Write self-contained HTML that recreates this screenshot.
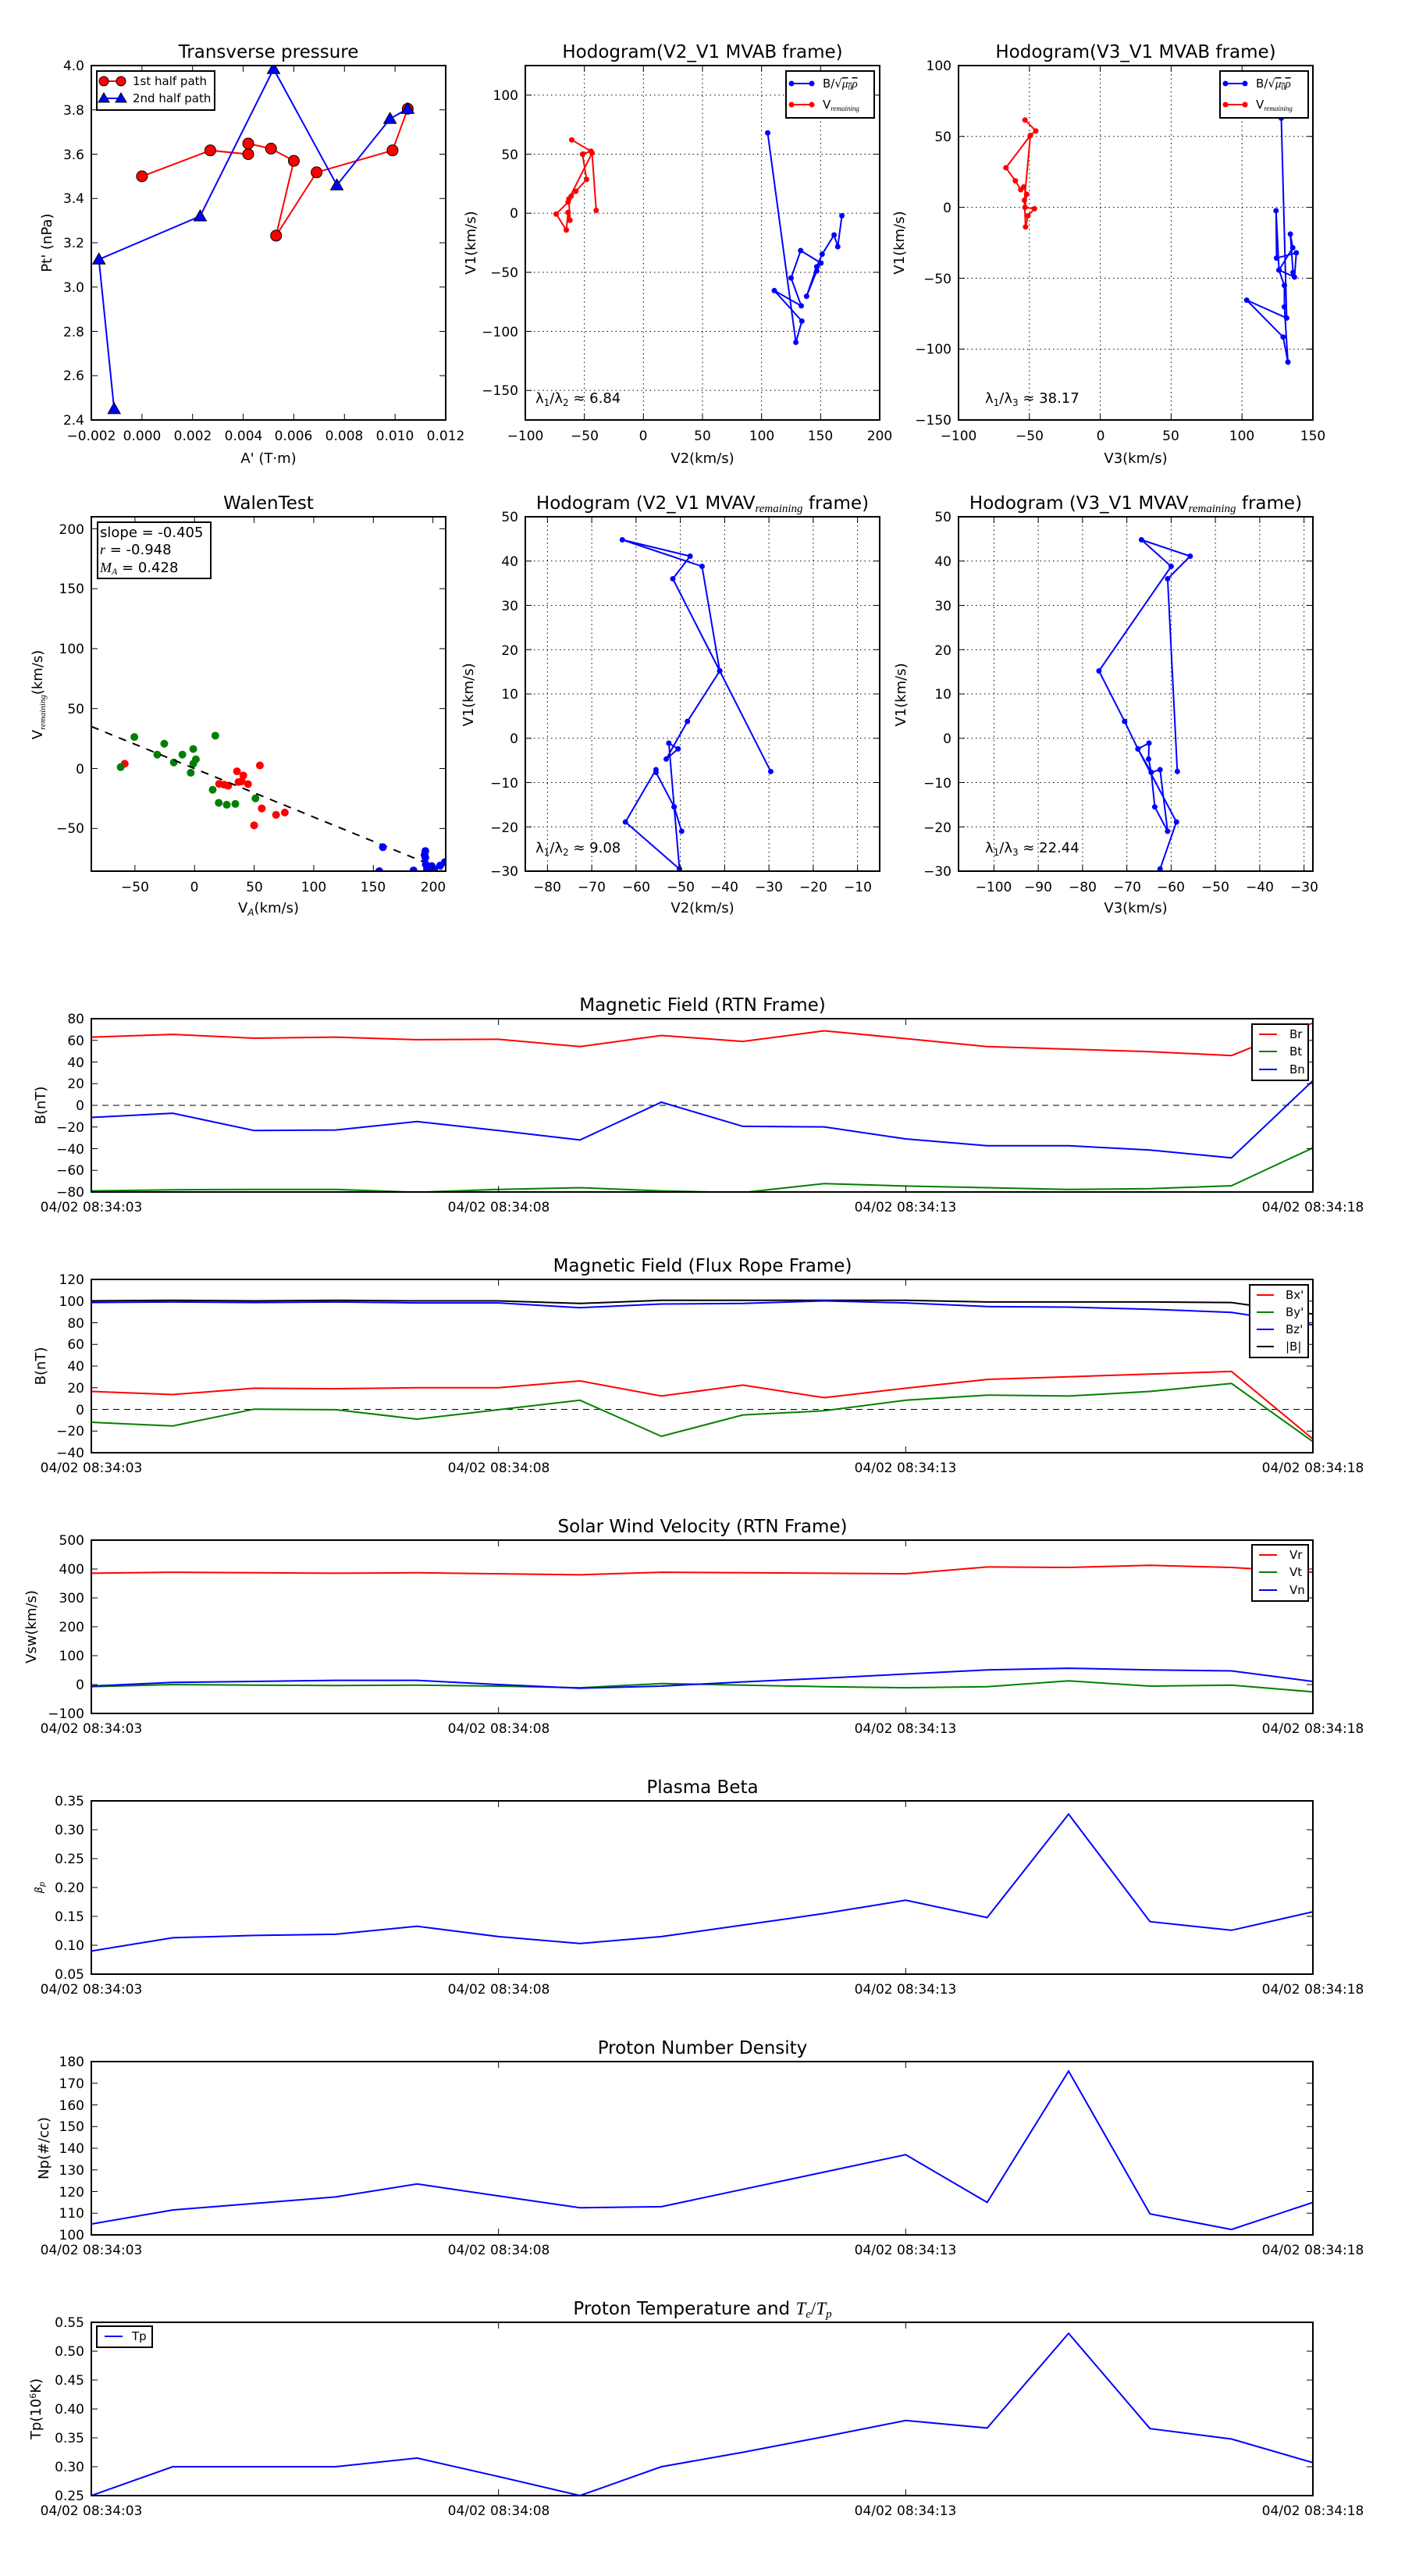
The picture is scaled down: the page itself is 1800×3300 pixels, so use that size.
<!DOCTYPE html>
<html><head><meta charset="utf-8">
<style>
html,body{margin:0;padding:0;background:#fff;}
svg{display:block;}
text{font-family:"DejaVu Sans","Liberation Sans",sans-serif;fill:#000;}
.tk{font-size:17px;}
.ti{font-size:23px;}
.lb{font-size:18px;}
.lg{font-size:15px;}
</style></head>
<body>
<svg id="fig" width="1800" height="3300" viewBox="0 0 1800 3300" xmlns="http://www.w3.org/2000/svg">
<rect width="1800" height="3300" fill="#fff"/>
<g id="data"></g>

<!-- ===== Titles ===== -->
<g class="ti" text-anchor="middle">
<text x="344" y="74">Transverse pressure</text>
<text x="900" y="74">Hodogram(V2_V1 MVAB frame)</text>
<text x="1455" y="74">Hodogram(V3_V1 MVAB frame)</text>
<text x="344" y="652">WalenTest</text>
<text x="900" y="652">Hodogram (V2_V1 MVAV<tspan font-size="15" font-style="italic" font-family="Liberation Serif" dy="4">remaining</tspan><tspan dy="-4"> frame)</tspan></text>
<text x="1455" y="652">Hodogram (V3_V1 MVAV<tspan font-size="15" font-style="italic" font-family="Liberation Serif" dy="4">remaining</tspan><tspan dy="-4"> frame)</tspan></text>
<text x="900" y="1295">Magnetic Field (RTN Frame)</text>
<text x="900" y="1629">Magnetic Field (Flux Rope Frame)</text>
<text x="900" y="1963">Solar Wind Velocity (RTN Frame)</text>
<text x="900" y="2297">Plasma Beta</text>
<text x="900" y="2631">Proton Number Density</text>
<text x="900" y="2965">Proton Temperature and <tspan font-style="italic" font-family="Liberation Serif">T</tspan><tspan font-style="italic" font-family="Liberation Serif" font-size="15" dy="4">e</tspan><tspan dy="-4" font-family="Liberation Serif">/</tspan><tspan font-style="italic" font-family="Liberation Serif">T</tspan><tspan font-style="italic" font-family="Liberation Serif" font-size="15" dy="4">p</tspan></text>
</g>

<!-- ===== TP ticks ===== -->
<g class="tk" text-anchor="middle">
<text x="117" y="564">−0.002</text><text x="182" y="564">0.000</text><text x="247" y="564">0.002</text><text x="312" y="564">0.004</text><text x="376" y="564">0.006</text><text x="441" y="564">0.008</text><text x="506" y="564">0.010</text><text x="571" y="564">0.012</text>
</g>
<g class="tk" text-anchor="end">
<text x="108" y="544">2.4</text><text x="108" y="487">2.6</text><text x="108" y="431">2.8</text><text x="108" y="374">3.0</text><text x="108" y="317">3.2</text><text x="108" y="260">3.4</text><text x="108" y="204">3.6</text><text x="108" y="147">3.8</text><text x="108" y="90">4.0</text>
</g>
<text class="lb" x="344" y="593" text-anchor="middle">A' (T·m)</text>
<text class="lb" transform="translate(66,311) rotate(-90)" text-anchor="middle">Pt' (nPa)</text>

<!-- ===== H1 ticks ===== -->
<g class="tk" text-anchor="middle">
<text x="673" y="564">−100</text><text x="749" y="564">−50</text><text x="824" y="564">0</text><text x="900" y="564">50</text><text x="976" y="564">100</text><text x="1051" y="564">150</text><text x="1127" y="564">200</text>
</g>
<g class="tk" text-anchor="end">
<text x="664" y="128">100</text><text x="664" y="204">50</text><text x="664" y="279">0</text><text x="664" y="355">−50</text><text x="664" y="431">−100</text><text x="664" y="506">−150</text>
</g>
<text class="lb" x="900" y="593" text-anchor="middle">V2(km/s)</text>
<text class="lb" transform="translate(609,311) rotate(-90)" text-anchor="middle">V1(km/s)</text>
<text class="lb" x="686" y="516">λ<tspan font-size="12" dy="4">1</tspan><tspan dy="-4">/λ</tspan><tspan font-size="12" dy="4">2</tspan><tspan dy="-4"> ≈ 6.84</tspan></text>

<!-- ===== H2 ticks ===== -->
<g class="tk" text-anchor="middle">
<text x="1228" y="564">−100</text><text x="1319" y="564">−50</text><text x="1410" y="564">0</text><text x="1500" y="564">50</text><text x="1591" y="564">100</text><text x="1682" y="564">150</text>
</g>
<g class="tk" text-anchor="end">
<text x="1219" y="90">100</text><text x="1219" y="181">50</text><text x="1219" y="272">0</text><text x="1219" y="363">−50</text><text x="1219" y="453">−100</text><text x="1219" y="544">−150</text>
</g>
<text class="lb" x="1455" y="593" text-anchor="middle">V3(km/s)</text>
<text class="lb" transform="translate(1158,311) rotate(-90)" text-anchor="middle">V1(km/s)</text>
<text class="lb" x="1262" y="516">λ<tspan font-size="12" dy="4">1</tspan><tspan dy="-4">/λ</tspan><tspan font-size="12" dy="4">3</tspan><tspan dy="-4"> ≈ 38.17</tspan></text>

<!-- ===== Walen ticks ===== -->
<g class="tk" text-anchor="middle">
<text x="173" y="1142">−50</text><text x="249" y="1142">0</text><text x="326" y="1142">50</text><text x="402" y="1142">100</text><text x="478" y="1142">150</text><text x="555" y="1142">200</text>
</g>
<g class="tk" text-anchor="end">
<text x="108" y="684">200</text><text x="108" y="760">150</text><text x="108" y="837">100</text><text x="108" y="914">50</text><text x="108" y="991">0</text><text x="108" y="1067">−50</text>
</g>
<text class="lb" x="344" y="1169" text-anchor="middle">V<tspan font-size="12" font-style="italic" dy="4">A</tspan><tspan dy="-4">(km/s)</tspan></text>
<text class="lb" transform="translate(54,890) rotate(-90)" text-anchor="middle">V<tspan font-size="11" font-style="italic" font-family="Liberation Serif" dy="4">remaining</tspan><tspan dy="-4">(km/s)</tspan></text>

<!-- ===== H3 ticks ===== -->
<g class="tk" text-anchor="middle">
<text x="701" y="1142">−80</text><text x="758" y="1142">−70</text><text x="815" y="1142">−60</text><text x="872" y="1142">−50</text><text x="928" y="1142">−40</text><text x="985" y="1142">−30</text><text x="1042" y="1142">−20</text><text x="1099" y="1142">−10</text>
</g>
<g class="tk" text-anchor="end">
<text x="664" y="668">50</text><text x="664" y="725">40</text><text x="664" y="782">30</text><text x="664" y="839">20</text><text x="664" y="895">10</text><text x="664" y="952">0</text><text x="664" y="1009">−10</text><text x="664" y="1066">−20</text><text x="664" y="1122">−30</text>
</g>
<text class="lb" x="900" y="1169" text-anchor="middle">V2(km/s)</text>
<text class="lb" transform="translate(606,890) rotate(-90)" text-anchor="middle">V1(km/s)</text>
<text class="lb" x="686" y="1092">λ<tspan font-size="12" dy="4">1</tspan><tspan dy="-4">/λ</tspan><tspan font-size="12" dy="4">2</tspan><tspan dy="-4"> ≈ 9.08</tspan></text>

<!-- ===== H4 ticks ===== -->
<g class="tk" text-anchor="middle">
<text x="1273" y="1142">−100</text><text x="1330" y="1142">−90</text><text x="1387" y="1142">−80</text><text x="1444" y="1142">−70</text><text x="1500" y="1142">−60</text><text x="1557" y="1142">−50</text><text x="1614" y="1142">−40</text><text x="1671" y="1142">−30</text>
</g>
<g class="tk" text-anchor="end">
<text x="1219" y="668">50</text><text x="1219" y="725">40</text><text x="1219" y="782">30</text><text x="1219" y="839">20</text><text x="1219" y="895">10</text><text x="1219" y="952">0</text><text x="1219" y="1009">−10</text><text x="1219" y="1066">−20</text><text x="1219" y="1122">−30</text>
</g>
<text class="lb" x="1455" y="1169" text-anchor="middle">V3(km/s)</text>
<text class="lb" transform="translate(1160,890) rotate(-90)" text-anchor="middle">V1(km/s)</text>
<text class="lb" x="1262" y="1092">λ<tspan font-size="12" dy="4">1</tspan><tspan dy="-4">/λ</tspan><tspan font-size="12" dy="4">3</tspan><tspan dy="-4"> ≈ 22.44</tspan></text>

<!-- ===== Time series y ticks ===== -->
<g class="tk" text-anchor="end">
<text x="108" y="1311">80</text><text x="108" y="1339">60</text><text x="108" y="1367">40</text><text x="108" y="1394">20</text><text x="108" y="1422">0</text><text x="108" y="1450">−20</text><text x="108" y="1478">−40</text><text x="108" y="1505">−60</text><text x="108" y="1533">−80</text>

<text x="108" y="1645">120</text><text x="108" y="1673">100</text><text x="108" y="1701">80</text><text x="108" y="1728">60</text><text x="108" y="1756">40</text><text x="108" y="1784">20</text><text x="108" y="1812">0</text><text x="108" y="1839">−20</text><text x="108" y="1867">−40</text>

<text x="108" y="1979">500</text><text x="108" y="2016">400</text><text x="108" y="2053">300</text><text x="108" y="2090">200</text><text x="108" y="2127">100</text><text x="108" y="2164">0</text><text x="108" y="2201">−100</text>

<text x="108" y="2313">0.35</text><text x="108" y="2350">0.30</text><text x="108" y="2387">0.25</text><text x="108" y="2424">0.20</text><text x="108" y="2461">0.15</text><text x="108" y="2498">0.10</text><text x="108" y="2535">0.05</text>

<text x="108" y="2647">180</text><text x="108" y="2675">170</text><text x="108" y="2703">160</text><text x="108" y="2730">150</text><text x="108" y="2758">140</text><text x="108" y="2786">130</text><text x="108" y="2814">120</text><text x="108" y="2841">110</text><text x="108" y="2869">100</text>

<text x="108" y="2981">0.55</text><text x="108" y="3018">0.50</text><text x="108" y="3055">0.45</text><text x="108" y="3092">0.40</text><text x="108" y="3129">0.35</text><text x="108" y="3166">0.30</text><text x="108" y="3203">0.25</text>
</g>

<!-- date labels -->
<g class="tk" text-anchor="middle">
<text x="117" y="1552">04/02 08:34:03</text><text x="639" y="1552">04/02 08:34:08</text><text x="1160" y="1552">04/02 08:34:13</text><text x="1682" y="1552">04/02 08:34:18</text>
<text x="117" y="1886">04/02 08:34:03</text><text x="639" y="1886">04/02 08:34:08</text><text x="1160" y="1886">04/02 08:34:13</text><text x="1682" y="1886">04/02 08:34:18</text>
<text x="117" y="2220">04/02 08:34:03</text><text x="639" y="2220">04/02 08:34:08</text><text x="1160" y="2220">04/02 08:34:13</text><text x="1682" y="2220">04/02 08:34:18</text>
<text x="117" y="2554">04/02 08:34:03</text><text x="639" y="2554">04/02 08:34:08</text><text x="1160" y="2554">04/02 08:34:13</text><text x="1682" y="2554">04/02 08:34:18</text>
<text x="117" y="2888">04/02 08:34:03</text><text x="639" y="2888">04/02 08:34:08</text><text x="1160" y="2888">04/02 08:34:13</text><text x="1682" y="2888">04/02 08:34:18</text>
<text x="117" y="3222">04/02 08:34:03</text><text x="639" y="3222">04/02 08:34:08</text><text x="1160" y="3222">04/02 08:34:13</text><text x="1682" y="3222">04/02 08:34:18</text>
</g>

<!-- ylabels time series -->
<g class="lb" text-anchor="middle">
<text transform="translate(58,1416) rotate(-90)">B(nT)</text>
<text transform="translate(58,1750) rotate(-90)">B(nT)</text>
<text transform="translate(46,2084) rotate(-90)">Vsw(km/s)</text>
<text transform="translate(54,2418) rotate(-90)" font-size="13" font-style="italic" font-family="Liberation Serif">β<tspan font-size="10" dy="3">p</tspan></text>
<text transform="translate(62,2752) rotate(-90)">Np(#/cc)</text>
<text transform="translate(52,3086) rotate(-90)">Tp(10<tspan font-size="11" dy="-6">6</tspan><tspan dy="6">K)</tspan></text>
</g>

<!-- ===== Legends ===== -->
<rect x="124" y="91" width="151" height="50" fill="#fff" stroke="#000" stroke-width="2"/>
<line x1="133" y1="104" x2="155" y2="104" stroke="red" stroke-width="2"/>
<circle cx="133" cy="104" r="6" fill="red" stroke="#000" stroke-width="1"/>
<circle cx="155" cy="104" r="6" fill="red" stroke="#000" stroke-width="1"/>
<line x1="133" y1="126" x2="155" y2="126" stroke="blue" stroke-width="2"/>
<polygon points="133,119 140,131 126,131" fill="blue" stroke="#000" stroke-width="1"/>
<polygon points="155,119 162,131 148,131" fill="blue" stroke="#000" stroke-width="1"/>
<text class="lg" x="170" y="109">1st half path</text>
<text class="lg" x="170" y="131">2nd half path</text>

<rect x="1007" y="91" width="113" height="60" fill="#fff" stroke="#000" stroke-width="2"/>
<line x1="1014" y1="107" x2="1040" y2="107" stroke="blue" stroke-width="2"/><circle cx="1014" cy="107" r="3.5" fill="blue"/><circle cx="1040" cy="107" r="3.5" fill="blue"/>
<line x1="1014" y1="134" x2="1040" y2="134" stroke="red" stroke-width="2"/><circle cx="1014" cy="134" r="3.5" fill="red"/><circle cx="1040" cy="134" r="3.5" fill="red"/>
<text class="lg" x="1054" y="112" font-size="14">B/√<tspan font-style="italic" font-family="Liberation Serif" text-decoration="overline">μ<tspan font-size="10" dy="3">0</tspan><tspan dy="-3">ρ</tspan></tspan></text>
<text class="lg" x="1054" y="139" font-size="14">V<tspan font-size="9" font-style="italic" font-family="Liberation Serif" dy="3">remaining</tspan></text>

<rect x="1563" y="91" width="113" height="60" fill="#fff" stroke="#000" stroke-width="2"/>
<line x1="1570" y1="107" x2="1595" y2="107" stroke="blue" stroke-width="2"/><circle cx="1570" cy="107" r="3.5" fill="blue"/><circle cx="1595" cy="107" r="3.5" fill="blue"/>
<line x1="1570" y1="134" x2="1595" y2="134" stroke="red" stroke-width="2"/><circle cx="1570" cy="134" r="3.5" fill="red"/><circle cx="1595" cy="134" r="3.5" fill="red"/>
<text class="lg" x="1609" y="112" font-size="14">B/√<tspan font-style="italic" font-family="Liberation Serif" text-decoration="overline">μ<tspan font-size="10" dy="3">0</tspan><tspan dy="-3">ρ</tspan></tspan></text>
<text class="lg" x="1609" y="139" font-size="14">V<tspan font-size="9" font-style="italic" font-family="Liberation Serif" dy="3">remaining</tspan></text>

<rect x="125" y="669" width="145" height="72" fill="#fff" stroke="#000" stroke-width="2"/>
<text x="128" y="688" font-size="18">slope = -0.405</text>
<text x="128" y="710" font-size="18"><tspan font-style="italic" font-family="Liberation Serif">r</tspan> = -0.948</text>
<text x="128" y="733" font-size="18"><tspan font-style="italic" font-family="Liberation Serif">M<tspan font-size="12" dy="3">A</tspan></tspan><tspan dy="-3"> = 0.428</tspan></text>

<rect x="1604" y="1312" width="72" height="72" fill="#fff" stroke="#000" stroke-width="2"/>
<line x1="1613" y1="1325" x2="1636" y2="1325" stroke="red" stroke-width="2"/>
<line x1="1613" y1="1347" x2="1636" y2="1347" stroke="green" stroke-width="2"/>
<line x1="1613" y1="1370" x2="1636" y2="1370" stroke="blue" stroke-width="2"/>
<text class="lg" x="1652" y="1330">Br</text><text class="lg" x="1652" y="1352">Bt</text><text class="lg" x="1652" y="1375">Bn</text>

<rect x="1601" y="1646" width="75" height="93" fill="#fff" stroke="#000" stroke-width="2"/>
<line x1="1610" y1="1659" x2="1632" y2="1659" stroke="red" stroke-width="2"/>
<line x1="1610" y1="1681" x2="1632" y2="1681" stroke="green" stroke-width="2"/>
<line x1="1610" y1="1703" x2="1632" y2="1703" stroke="blue" stroke-width="2"/>
<line x1="1610" y1="1725" x2="1632" y2="1725" stroke="#000" stroke-width="2"/>
<text class="lg" x="1647" y="1664">Bx'</text><text class="lg" x="1647" y="1686">By'</text><text class="lg" x="1647" y="1708">Bz'</text><text class="lg" x="1647" y="1730">|B|</text>

<rect x="1604" y="1979" width="72" height="72" fill="#fff" stroke="#000" stroke-width="2"/>
<line x1="1613" y1="1992" x2="1636" y2="1992" stroke="red" stroke-width="2"/>
<line x1="1613" y1="2014" x2="1636" y2="2014" stroke="green" stroke-width="2"/>
<line x1="1613" y1="2037" x2="1636" y2="2037" stroke="blue" stroke-width="2"/>
<text class="lg" x="1652" y="1997">Vr</text><text class="lg" x="1652" y="2019">Vt</text><text class="lg" x="1652" y="2042">Vn</text>

<rect x="124" y="2980" width="71" height="27" fill="#fff" stroke="#000" stroke-width="2"/>
<line x1="134" y1="2993" x2="157" y2="2993" stroke="blue" stroke-width="2"/>
<text class="lg" x="169" y="2998">Tp</text>
</svg>

<script>
(function(){
var NS='http://www.w3.org/2000/svg';
var root=document.getElementById('data');
var cid=0;
function el(p,tag,a){var e=document.createElementNS(NS,tag);for(var k in a)e.setAttribute(k,a[k]);p.appendChild(e);return e;}
function X(P,v){return P.x0+(v-P.xmin)/(P.xmax-P.xmin)*P.w;}
function Y(P,v){return P.y0+P.h-(v-P.ymin)/(P.ymax-P.ymin)*P.h;}
function range(a,b,s){var r=[];for(var v=a;v<=b+1e-9;v+=s)r.push(+v.toFixed(6));return r;}
function axes(P){
  var g=el(root,'g',{});
  var id='c'+(cid++);
  var cp=el(g,'clipPath',{id:id});el(cp,'rect',{x:P.x0,y:P.y0,width:P.w,height:P.h});
  if(P.grid){
    P.xt.forEach(function(v){var x=X(P,v);el(g,'line',{x1:x,y1:P.y0,x2:x,y2:P.y0+P.h,stroke:'#000','stroke-width':1,'stroke-dasharray':'1.5,4'});});
    P.yt.forEach(function(v){var y=Y(P,v);el(g,'line',{x1:P.x0,y1:y,x2:P.x0+P.w,y2:y,stroke:'#000','stroke-width':1,'stroke-dasharray':'1.5,4'});});
  }
  var d=el(g,'g',{'clip-path':'url(#'+id+')'});
  P.fg=el(g,'g',{});
  P.d=d;
  P.xt.forEach(function(v){var x=X(P,v);
    el(P.fg,'line',{x1:x,y1:P.y0+P.h,x2:x,y2:P.y0+P.h-8,stroke:'#000','stroke-width':1});
    el(P.fg,'line',{x1:x,y1:P.y0,x2:x,y2:P.y0+8,stroke:'#000','stroke-width':1});});
  P.yt.forEach(function(v){var y=Y(P,v);
    el(P.fg,'line',{x1:P.x0,y1:y,x2:P.x0+8,y2:y,stroke:'#000','stroke-width':1});
    el(P.fg,'line',{x1:P.x0+P.w,y1:y,x2:P.x0+P.w-8,y2:y,stroke:'#000','stroke-width':1});});
  el(P.fg,'rect',{x:P.x0,y:P.y0,width:P.w,height:P.h,fill:'none',stroke:'#000','stroke-width':2});
  return P;
}
function line(P,pts,col,w,dash){
  var s=pts.map(function(p){return X(P,p[0]).toFixed(1)+','+Y(P,p[1]).toFixed(1);}).join(' ');
  var a={points:s,fill:'none',stroke:col,'stroke-width':w||2,'stroke-linejoin':'miter'};
  if(dash)a['stroke-dasharray']=dash;
  el(P.d,'polyline',a);
}
function dots(P,pts,col,r,stroke){
  pts.forEach(function(p){var a={cx:X(P,p[0]),cy:Y(P,p[1]),r:r,fill:col};if(stroke){a.stroke=stroke;a['stroke-width']=1;}el(P.d,'circle',a);});
}
function tris(P,pts,col,s){
  pts.forEach(function(p){var x=X(P,p[0]),y=Y(P,p[1]);
    el(P.d,'polygon',{points:x+','+(y-s)+' '+(x+s)+','+(y+s*0.75)+' '+(x-s)+','+(y+s*0.75),fill:col,stroke:'#000','stroke-width':1});});
}
var TP=axes({x0:117,y0:84,w:454,h:454,xmin:-0.002,xmax:0.012,ymin:2.4,ymax:4.0,xt:range(-0.002,0.012,0.002),yt:range(2.4,4.0,0.2)});
var red=[[0,3.50],[0.0027,3.617],[0.0042,3.60],[0.0042,3.648],[0.0051,3.625],[0.0060,3.57],[0.0053,3.232],[0.0069,3.518],[0.0099,3.617],[0.0105,3.805]];
var blu=[[-0.0011,2.45],[-0.0017,3.125],[0.0023,3.32],[0.0052,3.985],[0.0077,3.46],[0.0098,3.76],[0.0105,3.805]];
line(TP,red,'red',2);dots(TP,red,'red',7,'#000');
line(TP,blu,'blue',2);tris(TP,blu,'blue',8);
var H1=axes({x0:673,y0:84,w:454,h:454,xmin:-100,xmax:200,ymin:-175,ymax:125,xt:range(-100,200,50),yt:range(-150,100,50),grid:1});
var h1r=[[-60.7,62.1],[-44.5,52.6],[-51.6,50],[-48.1,28.6],[-57.2,18.6],[-61.2,14.4],[-63.8,9.4],[-73.9,-0.7],[-65.3,-14.2],[-63.8,0.7],[-62.2,-5.9],[-63.2,12],[-43.5,51],[-40,2.4]];
var h1b=[[105.2,68],[129,-109.3],[134.1,-91.3],[110.8,-65.5],[133.6,-78.4],[125,-54.8],[133.1,-31.6],[150.3,-42.2],[146.7,-48.9],[138.1,-70.3],[146.7,-45.3],[151.3,-34.7],[161.4,-18.4],[164.5,-28.3],[168,-2.1]];
line(H1,h1b,'blue',2);dots(H1,h1b,'blue',3.5);
line(H1,h1r,'red',2);dots(H1,h1r,'red',3.5);
var H2=axes({x0:1228,y0:84,w:454,h:454,xmin:-100,xmax:150,ymin:-150,ymax:100,xt:range(-100,150,50),yt:range(-150,100,50),grid:1});
var h2r=[[-53.1,61.6],[-45.5,53.9],[-49.3,50.7],[-66.6,27.9],[-59.9,18.7],[-56.1,12.4],[-54,14.4],[-51.9,9.2],[-53.1,0],[-46.4,-1],[-51,-5.9],[-52.7,-13.8],[-53.5,5],[-49.3,50.7]];
var h2b=[[127.7,62.9],[131.5,-78.1],[103.3,-65.5],[129,-91.5],[132.4,-109.2],[129.9,-70.2],[129.9,-55.1],[126.1,-44.3],[137,-49.2],[138.3,-32.1],[124.4,-35.8],[124,-2.4],[126.1,-44.3],[135.8,-28.5],[134.1,-18.9],[136,-46]];
line(H2,h2b,'blue',2);dots(H2,h2b,'blue',3.5);
line(H2,h2r,'red',2);dots(H2,h2r,'red',3.5);
var W=axes({x0:117,y0:662,w:454,h:454,xmin:-86.6,xmax:210.7,ymin:-85.6,ymax:210,xt:range(-50,200,50),yt:range(-50,200,50)});
var wg=[[-50.5,26.3],[-25.4,20.7],[-31.3,11.6],[-17.4,5.1],[-10.2,11.6],[-1.1,16.3],[1.1,7.7],[-1.1,4],[-3.2,-3.5],[-62,1.2],[17.4,27.4],[15.2,-17.7],[20.3,-28.6],[27,-30.2],[34.2,-29.5],[51.1,-24.9]];
var wr=[[-58.6,4],[20.6,-12.8],[24.9,-13.5],[28.3,-14.4],[35.6,-2.3],[36.9,-11.2],[40.9,-5.8],[44.9,-13],[54.8,2.6],[56.4,-33.3],[50,-47.4],[68.4,-38.6],[75.7,-36.7],[39.6,-10.7]];
var wb=[[158,-65.6],[155,-85.6],[183.7,-85],[193.6,-68.8],[193.6,-74.4],[194,-80],[195,-83.7],[199,-81.4],[206,-81],[210,-78],[197,-85],[193,-72],[201,-84]];
dots(W,wr,'red',5);dots(W,wg,'green',5);
line(W,[[-86.6,35.07],[210.7,-85.33]],'#000',2,'10,9');
dots(W,wb,'blue',5);
var H3=axes({x0:673,y0:662,w:454,h:454,xmin:-85,xmax:-5,ymin:-30,ymax:50,xt:range(-80,-10,10),yt:range(-30,50,10),grid:1});
var h3=[[-29.6,-7.5],[-41.1,15.2],[-45.1,38.8],[-63.1,44.8],[-47.8,41.1],[-51.7,36],[-41.1,15.2],[-48.4,3.8],[-53.2,-4.7],[-50.5,-2.4],[-52.6,-1.1],[-51.4,-15.5],[-49.7,-21],[-51.4,-15.5],[-55.5,-7.7],[-55.5,-7.1],[-62.4,-18.9],[-50.2,-29.5],[-51.4,-15.5]];
line(H3,h3,'blue',2);dots(H3,h3,'blue',3.5);
var H4=axes({x0:1228,y0:662,w:454,h:454,xmin:-108,xmax:-28,ymin:-30,ymax:50,xt:range(-100,-30,10),yt:range(-30,50,10),grid:1});
var h4=[[-58.6,-7.5],[-60.8,36],[-55.7,41.1],[-66.7,44.8],[-60,38.8],[-76.3,15.2],[-70.5,3.8],[-67.5,-2.4],[-65,-1.1],[-65.1,-4.7],[-64.5,-7.7],[-62.5,-7.1],[-60.8,-21],[-63.7,-15.5],[-64.5,-7.7],[-67.5,-2.4],[-58.8,-18.9],[-62.5,-29.5]];
line(H4,h4,'blue',2);dots(H4,h4,'blue',3.5);
function ts(y0,ymin,ymax,yt,series,zero){
  var P=axes({x0:117,y0:y0,w:1565,h:222,xmin:0,xmax:15,ymin:ymin,ymax:ymax,xt:[0,5,10,15],yt:yt});
  if(zero)line(P,[[0,0],[15,0]],'#000',1,'8,6');
  series.forEach(function(s){line(P,s[1].map(function(v,i){return [i,v];}),s[0],2);});
}
ts(1305,-80,80,range(-80,80,20),[
 ['red',[63,65.5,62,63,60.6,61,54.3,64.5,59,68.8,61.6,54.3,51.9,49.5,46,76]],
 ['green',[-79,-78,-77.6,-77.6,-80.3,-77.6,-76,-79,-80.5,-72.2,-74.5,-76,-77.6,-77,-74.2,-39.3]],
 ['blue',[-11.2,-7.3,-23.3,-22.8,-15,-23.3,-32,2.9,-19.4,-19.9,-31,-37.3,-37.3,-41.2,-48.5,22.8]]],1);
ts(1639,-40,120,range(-40,120,20),[
 ['#000',[100.2,100.7,100.2,100.7,100.2,100.2,97.8,100.7,100.7,100.7,100.7,99.2,99.2,99.2,98.7,88]],
 ['blue',[98.7,99.2,98.7,99.2,98.3,98.3,93.9,97.3,97.8,100.2,98.3,94.9,94.4,92.5,89.6,78]],
 ['red',[16.6,13.7,19.5,19.1,20,20,26.3,12.3,22.4,10.8,19.5,27.7,30.1,32.6,35,-27.3]],
 ['green',[-11.9,-15.3,0.2,-0.3,-9,-0.3,8.4,-24.9,-5.1,-1.3,8.4,13.2,12.3,16.6,23.9,-29.8]]],1);
ts(1973,-100,500,range(-100,500,100),[
 ['red',[385.5,389,387,385.5,387,383.6,380,389,387,385.5,383.6,407,405.5,412.7,405.5,389]],
 ['green',[-7.3,0,-1.8,-3.6,-1.8,-5.5,-11,3.6,-1.8,-7.3,-11,-7.3,12.7,-5.5,-1.8,-25.5]],
 ['blue',[-5.5,7.3,10.9,14.5,14.5,0,-12.7,-5.5,9.1,21.8,36.4,50.9,56.4,50.9,47.3,10.9]]]);
ts(2307,0.05,0.35,range(0.05,0.35,0.05),[['blue',[0.09,0.113,0.117,0.119,0.133,0.115,0.103,0.115,0.135,0.155,0.178,0.148,0.327,0.141,0.126,0.158]]]);
ts(2641,100,180,range(100,180,10),[['blue',[105,111.5,114.5,117.5,123.5,118,112.5,113,121,129,137,115,175.6,109.7,102.5,115]]]);
ts(2975,0.25,0.55,range(0.25,0.55,0.05),[['blue',[0.25,0.30,0.30,0.30,0.315,0.283,0.25,0.30,0.325,0.352,0.38,0.367,0.531,0.366,0.348,0.307]]]);
})();
</script>
</body></html>
